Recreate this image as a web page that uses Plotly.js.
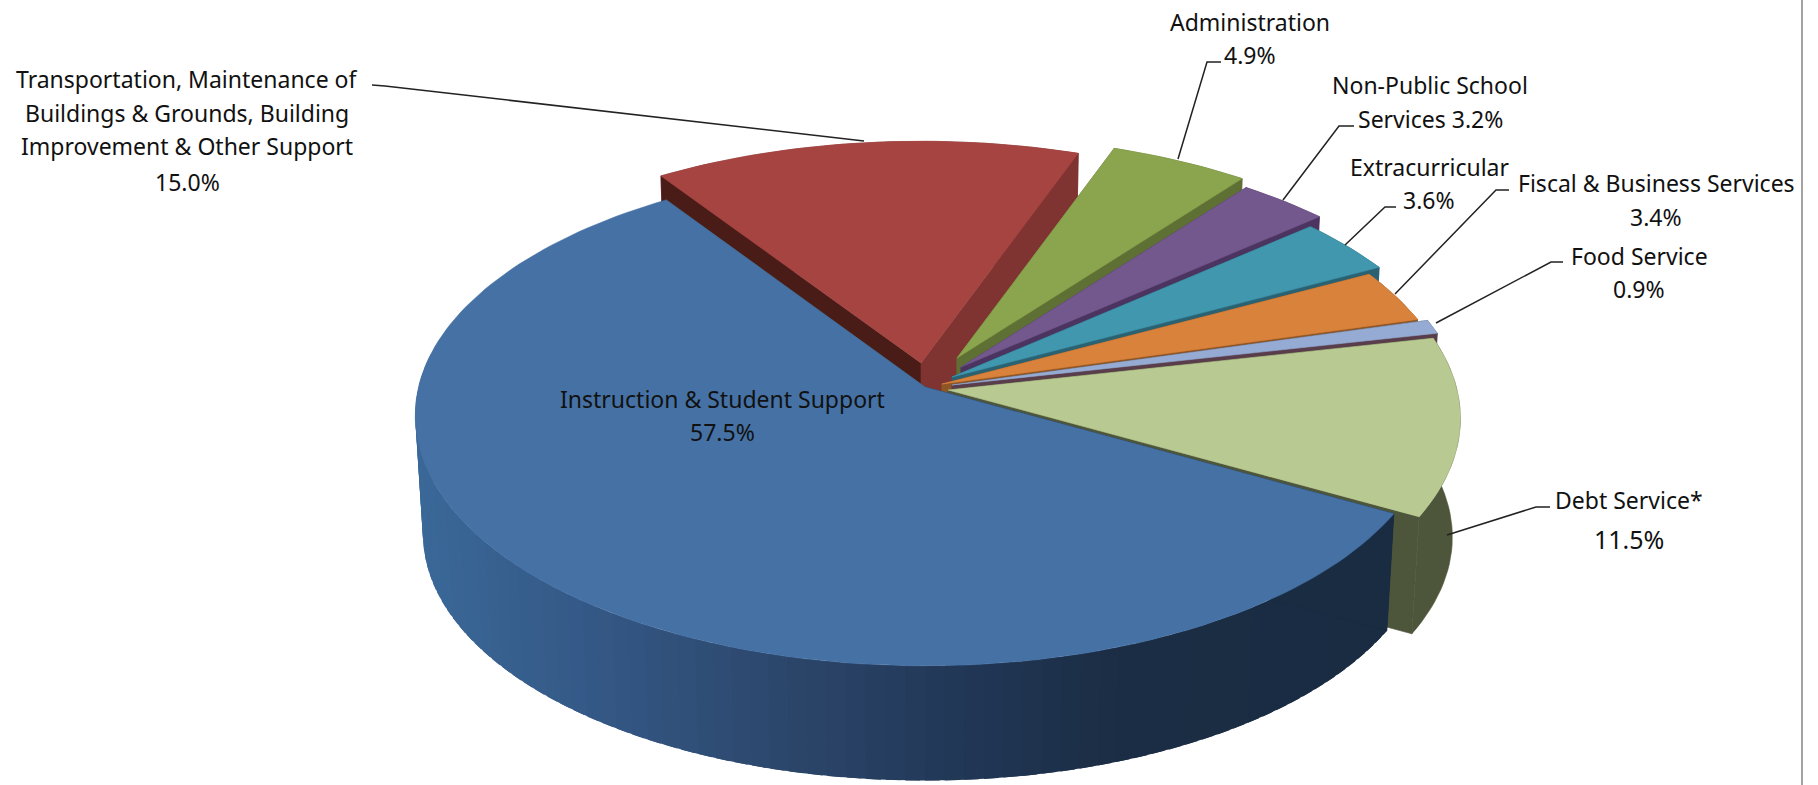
<!DOCTYPE html>
<html>
<head>
<meta charset="utf-8">
<script src="https://cdn.plot.ly/plotly-3.0.1.min.js"></script>
<style>html,body{margin:0;padding:0;background:#fff}#chart{width:1818px;height:785px}</style>
</head>
<body>
<div id="chart"></div>
<script>
// ---- data ----
const categories = ["Instruction & Student Support","Debt Service*","Food Service","Fiscal & Business Services","Extracurricular","Non-Public School Services","Administration","Transportation, Maintenance of Buildings & Grounds, Building Improvement & Other Support"];
const values = [57.5,11.5,0.9,3.4,3.6,3.2,4.9,15.0];
const labelLines = [
  ["Instruction & Student Support","{p}"],
  ["Debt Service*","{p}"],
  ["Food Service","{p}"],
  ["Fiscal & Business Services","{p}"],
  ["Extracurricular","{p}"],
  ["Non-Public School","Services {p}"],
  ["Administration","{p}"],
  ["Transportation, Maintenance of","Buildings & Grounds, Building","Improvement & Other Support","{p}"]
];
// ---- styles and layout ----
const topColors  = ["#4571a5","#b8ca91","#95abd3","#d9823b","#4097ae","#73588e","#8aa54d","#a64442"];
const cutColors  = [["#1a2c42","#4d553a"],["#4d553a","#4d553a"],["#3f5068","#5a3d4a"],["#8e5526","#8e5526"],["#2a6272","#2a6272"],["#4b3460","#4b3460"],["#5f7035","#5f7035"],["#4a1c18","#7f3431"]];
const sideColors = [null,"#4d553a","#3f5068","#8e5526","#2a6272","#4b3460","#5f7035","#7f3431"];
const centers = [[925,387],[948,390],[952,385],[942,384],[952,377],[961,367],[957,358],[921,363]];
const radiusScale = [0.995,1,1,1,1,1,1,1];
const labelPos = [[722,[399,432]],[1629,[500,539]],[1639,[256,289]],[1656,[183,217]],[1429,[167,200]],[1430,[85,119]],[1250,[22,55]],[187,[79,113,146,182]]];
const leaders = [null,[[1550,507],[1536,507],[1447,535]],[[1563,262],[1551,262],[1436,323]],[[1509,190],[1496,190],[1395,294]],[[1396,207],[1385,207],[1345,245]],[[1354,126],[1339,126],[1283,200]],[[1221,62],[1207,62],[1178,159]],[[372,85],[385,86],[864,141]]];
const startAngle = 124, R = 509, T = 247, K = 0.114, DEPTH = 119, SIGMA = 0.985, VX = 928, VY = 388;
const gradStops = [[416,[58,104,152]],[600,[52,87,133]],[800,[43,69,105]],[950,[34,56,88]],[1120,[27,45,68]],[1400,[26,44,66]]];
const textColor = "#111111", FONT = "Noto Sans, Open Sans, sans-serif", LABEL_SIZE = 23, BIG_SIZE = 25;

// ---- geometry ----
const rad = d => d*Math.PI/180;
function rim(i,a){const c=centers[i],s=1/(1+K*Math.sin(rad(a)));return [c[0]+R*radiusScale[i]*Math.cos(rad(a))*s, c[1]-T*Math.sin(rad(a))*s];}
function low(p){return [VX+(p[0]-VX)*SIGMA, VY+(p[1]-VY)*SIGMA+DEPTH];}
function arc(i,a0,a1){const n=Math.max(2,Math.ceil(Math.abs(a1-a0)/1.5));const o=[];for(let k=0;k<=n;k++)o.push(rim(i,a0+(a1-a0)*k/n));return o;}
function poly(pts,color,w){return {type:"scatter",mode:"lines",x:pts.map(p=>p[0]).concat(pts[0][0]),y:pts.map(p=>p[1]).concat(pts[0][1]),fill:"toself",fillcolor:color,line:{color:color,width:w===undefined?0.6:w},hoverinfo:"skip",showlegend:false};}
function gradColor(x){
  for(let i=1;i<gradStops.length;i++){if(x<=gradStops[i][0]){const a=gradStops[i-1],b=gradStops[i],t=Math.max(0,(x-a[0])/(b[0]-a[0]));
    return "rgb("+a[1].map((v,j)=>Math.round(v+(b[1][j]-v)*t)).join(",")+")";}}
  const l=gradStops[gradStops.length-1][1];return "rgb("+l.join(",")+")";
}
const spans=[];let acc=startAngle;
values.forEach(v=>{const e=acc+v*3.6;spans.push([acc,e]);acc=e;});
const traces=[];
function sliceTraces(i){
  const c=centers[i],[a0,a1]=spans[i],lc=low(c);
  const pa=rim(i,a0),pb=rim(i,a1);
  if(sideColors[i]){
    const ar=arc(i,a0,a1);
    traces.push(poly(ar.concat(ar.map(low).reverse()),sideColors[i]));
  }else{
    const from=Math.max(a0,170),step=2;
    for(let a=from;a<a1;a+=step){
      const b=Math.min(a+step+1.5,a1),ar=arc(i,a,b);
      const m=rim(i,a+step/2);
      traces.push(poly(ar.concat(ar.map(low).reverse()),gradColor(m[0]),0));
    }
  }
  traces.push(poly([c,pb,low(pb),lc],cutColors[i][0]));
  traces.push(poly([c,pa,low(pa),lc],cutColors[i][1]));
  traces.push(poly([c].concat(arc(i,a0,a1)),topColors[i]));
}
// back to front: last slices first, the front slice last
[7,6,5,4,3,2,1,0].forEach(sliceTraces);
leaders.forEach(l=>{if(l)traces.push({type:"scatter",mode:"lines",x:l.map(p=>p[0]),y:l.map(p=>p[1]),line:{color:"#222222",width:1.5},hoverinfo:"skip",showlegend:false});});

const annotations=[];
labelLines.forEach((lines,i)=>{
  lines.forEach((t,j)=>{
    const big=(i===1&&j===1);
    annotations.push({x:labelPos[i][0],y:labelPos[i][1][j],xref:"x",yref:"y",xanchor:"center",yanchor:"middle",showarrow:false,
      text:t.replace("{p}",values[i].toFixed(1)+"%"),font:{family:FONT,size:big?BIG_SIZE:LABEL_SIZE,color:textColor}});
  });
});

Plotly.newPlot("chart",traces,{
  width:1818,height:785,margin:{l:0,r:0,t:0,b:0},paper_bgcolor:"#ffffff",plot_bgcolor:"#ffffff",showlegend:false,
  xaxis:{range:[0,1818],visible:false,fixedrange:true},
  yaxis:{range:[785,0],visible:false,fixedrange:true},
  annotations:annotations,
  shapes:[{type:"line",xref:"x",yref:"y",x0:1802,x1:1802,y0:0,y1:785,line:{color:"#a3a3a3",width:2}}]
},{displayModeBar:false,staticPlot:true});
</script>
</body>
</html>
